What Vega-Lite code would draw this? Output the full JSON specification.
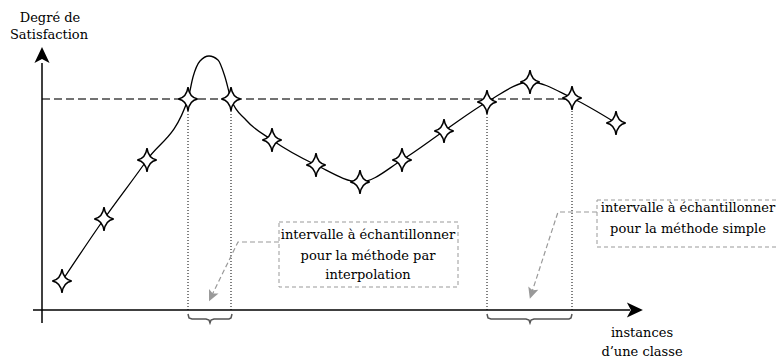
{
  "$schema": "https://vega.github.io/schema/vega-lite/v6.json",
  "width": 776,
  "height": 358,
  "autosize": "none",
  "padding": 0,
  "background": "white",
  "config": {"view": {"stroke": null}},
  "encoding": {
    "x": {"field": "x", "type": "quantitative", "scale": {"domain": [-42, 734], "nice": false, "zero": false}, "axis": null},
    "y": {"field": "y", "type": "quantitative", "scale": {"domain": [-48, 310], "nice": false, "zero": false}, "axis": null}
  },
  "layer": [
    {
      "data": {"values": [
        {"x": 146, "y": 0, "y2": 211},
        {"x": 189, "y": 0, "y2": 211},
        {"x": 445, "y": 0, "y2": 211},
        {"x": 530, "y": 0, "y2": 211}
      ]},
      "mark": {"type": "rule", "color": "black", "strokeWidth": 1, "strokeDash": [1, 2]},
      "encoding": {"y2": {"field": "y2"}}
    },
    {
      "data": {"values": [{"x": 0, "x2": 530, "y": 211}]},
      "mark": {"type": "rule", "color": "#444444", "strokeWidth": 1.5, "strokeDash": [8, 4]},
      "encoding": {"x2": {"field": "x2"}}
    },
    {
      "data": {"values": [
        {"x": 20, "y": 29}, {"x": 62, "y": 91}, {"x": 105, "y": 150}, {"x": 146, "y": 211},
        {"x": 151, "y": 233}, {"x": 158, "y": 249}, {"x": 167, "y": 254}, {"x": 176, "y": 250},
        {"x": 183, "y": 233}, {"x": 189, "y": 211}, {"x": 204, "y": 190}, {"x": 230, "y": 170},
        {"x": 274, "y": 145}, {"x": 318, "y": 128}, {"x": 360, "y": 150}, {"x": 402, "y": 179},
        {"x": 445, "y": 208}, {"x": 488, "y": 228}, {"x": 530, "y": 212}, {"x": 574, "y": 187}
      ]},
      "mark": {"type": "line", "interpolate": "monotone", "color": "black", "strokeWidth": 1.3}
    },
    {
      "data": {"values": [
        {"x": 20, "y": 29}, {"x": 62, "y": 91}, {"x": 105, "y": 150}, {"x": 146, "y": 211},
        {"x": 189, "y": 211}, {"x": 230, "y": 170}, {"x": 274, "y": 145}, {"x": 318, "y": 128},
        {"x": 360, "y": 150}, {"x": 402, "y": 179}, {"x": 445, "y": 208}, {"x": 488, "y": 228},
        {"x": 530, "y": 212}, {"x": 574, "y": 187}
      ]},
      "mark": {"type": "point", "shape": "M0,-1 Q0.12,-0.12 0.82,0 Q0.12,0.12 0,1 Q-0.12,0.12 -0.82,0 Q-0.12,-0.12 0,-1 Z", "size": 560, "filled": true, "fill": "white", "stroke": "black", "strokeWidth": 1.5, "opacity": 1}
    },
    {
      "data": {"values": [{"x": -9, "x2": 588, "y": 0}]},
      "mark": {"type": "rule", "color": "black", "strokeWidth": 1.5},
      "encoding": {"x2": {"field": "x2"}}
    },
    {
      "data": {"values": [{"x": 0, "y": -13, "y2": 247}]},
      "mark": {"type": "rule", "color": "black", "strokeWidth": 1.5},
      "encoding": {"y2": {"field": "y2"}}
    },
    {
      "data": {"values": [{"x": 0, "y": 254}]},
      "mark": {"type": "point", "shape": "M0,-1 L0.85,0.8 L0,0.35 L-0.85,0.8 Z", "size": 316, "filled": true, "color": "black", "opacity": 1}
    },
    {
      "data": {"values": [{"x": 592, "y": 0}]},
      "mark": {"type": "point", "shape": "M0,-1 L0.85,0.8 L0,0.35 L-0.85,0.8 Z", "angle": 90, "size": 316, "filled": true, "color": "black", "opacity": 1}
    },
    {
      "data": {"values": [
        {"id": 1, "o": 1, "x": 146, "y": -4}, {"id": 1, "o": 2, "x": 147, "y": -8}, {"id": 1, "o": 3, "x": 150, "y": -9},
        {"id": 1, "o": 4, "x": 164, "y": -9}, {"id": 1, "o": 5, "x": 167, "y": -10}, {"id": 1, "o": 6, "x": 168, "y": -13},
        {"id": 1, "o": 7, "x": 169, "y": -10}, {"id": 1, "o": 8, "x": 172, "y": -9}, {"id": 1, "o": 9, "x": 187, "y": -9},
        {"id": 1, "o": 10, "x": 189, "y": -8}, {"id": 1, "o": 11, "x": 190, "y": -4},
        {"id": 2, "o": 1, "x": 445, "y": -4}, {"id": 2, "o": 2, "x": 446, "y": -8}, {"id": 2, "o": 3, "x": 449, "y": -9},
        {"id": 2, "o": 4, "x": 484, "y": -9}, {"id": 2, "o": 5, "x": 487, "y": -10}, {"id": 2, "o": 6, "x": 488, "y": -13},
        {"id": 2, "o": 7, "x": 489, "y": -10}, {"id": 2, "o": 8, "x": 492, "y": -9}, {"id": 2, "o": 9, "x": 527, "y": -9},
        {"id": 2, "o": 10, "x": 529, "y": -8}, {"id": 2, "o": 11, "x": 530, "y": -4}
      ]},
      "mark": {"type": "line", "color": "#555555", "strokeWidth": 1.5},
      "encoding": {"detail": {"field": "id"}, "order": {"field": "o"}}
    },
    {
      "data": {"values": [
        {"x": 237, "x2": 416, "y": 88, "y2": 23},
        {"x": 555, "x2": 740, "y": 110, "y2": 63}
      ]},
      "mark": {"type": "rect", "fill": "white", "fillOpacity": 0, "stroke": "#999999", "strokeWidth": 1, "strokeDash": [4, 3]},
      "encoding": {"x2": {"field": "x2"}, "y2": {"field": "y2"}}
    },
    {
      "data": {"values": [
        {"id": 1, "o": 1, "x": 237, "y": 68}, {"id": 1, "o": 2, "x": 196, "y": 68}, {"id": 1, "o": 3, "x": 170, "y": 15},
        {"id": 2, "o": 1, "x": 555, "y": 98}, {"id": 2, "o": 2, "x": 516, "y": 98}, {"id": 2, "o": 3, "x": 490, "y": 18}
      ]},
      "mark": {"type": "line", "color": "#999999", "strokeWidth": 1.2, "strokeDash": [5, 3]},
      "encoding": {"detail": {"field": "id"}, "order": {"field": "o"}}
    },
    {
      "data": {"values": [{"x": 170, "y": 15}]},
      "mark": {"type": "point", "shape": "M0,1 L-0.75,-0.6 L0,-0.25 L0.75,-0.6 Z", "angle": 25, "size": 196, "filled": true, "color": "#999999", "opacity": 1}
    },
    {
      "data": {"values": [{"x": 490, "y": 18}]},
      "mark": {"type": "point", "shape": "M0,1 L-0.75,-0.6 L0,-0.25 L0.75,-0.6 Z", "angle": 18, "size": 196, "filled": true, "color": "#999999", "opacity": 1}
    },
    {
      "data": {"values": [
        {"x": 8, "y": 292, "label": "Degré de"},
        {"x": 7, "y": 275, "label": "Satisfaction"},
        {"x": 600, "y": -23, "label": "instances"},
        {"x": 600, "y": -42, "label": "d’une classe"},
        {"x": 326, "y": 75, "label": "intervalle à échantillonner"},
        {"x": 326, "y": 54, "label": "pour la méthode par"},
        {"x": 326, "y": 35, "label": "interpolation"},
        {"x": 646, "y": 102, "label": "intervalle à échantillonner"},
        {"x": 646, "y": 81, "label": "pour la méthode simple"}
      ]},
      "mark": {"type": "text", "font": "DejaVu Serif", "fontSize": 13, "align": "center", "baseline": "middle", "color": "black"},
      "encoding": {"text": {"field": "label"}}
    }
  ]
}
